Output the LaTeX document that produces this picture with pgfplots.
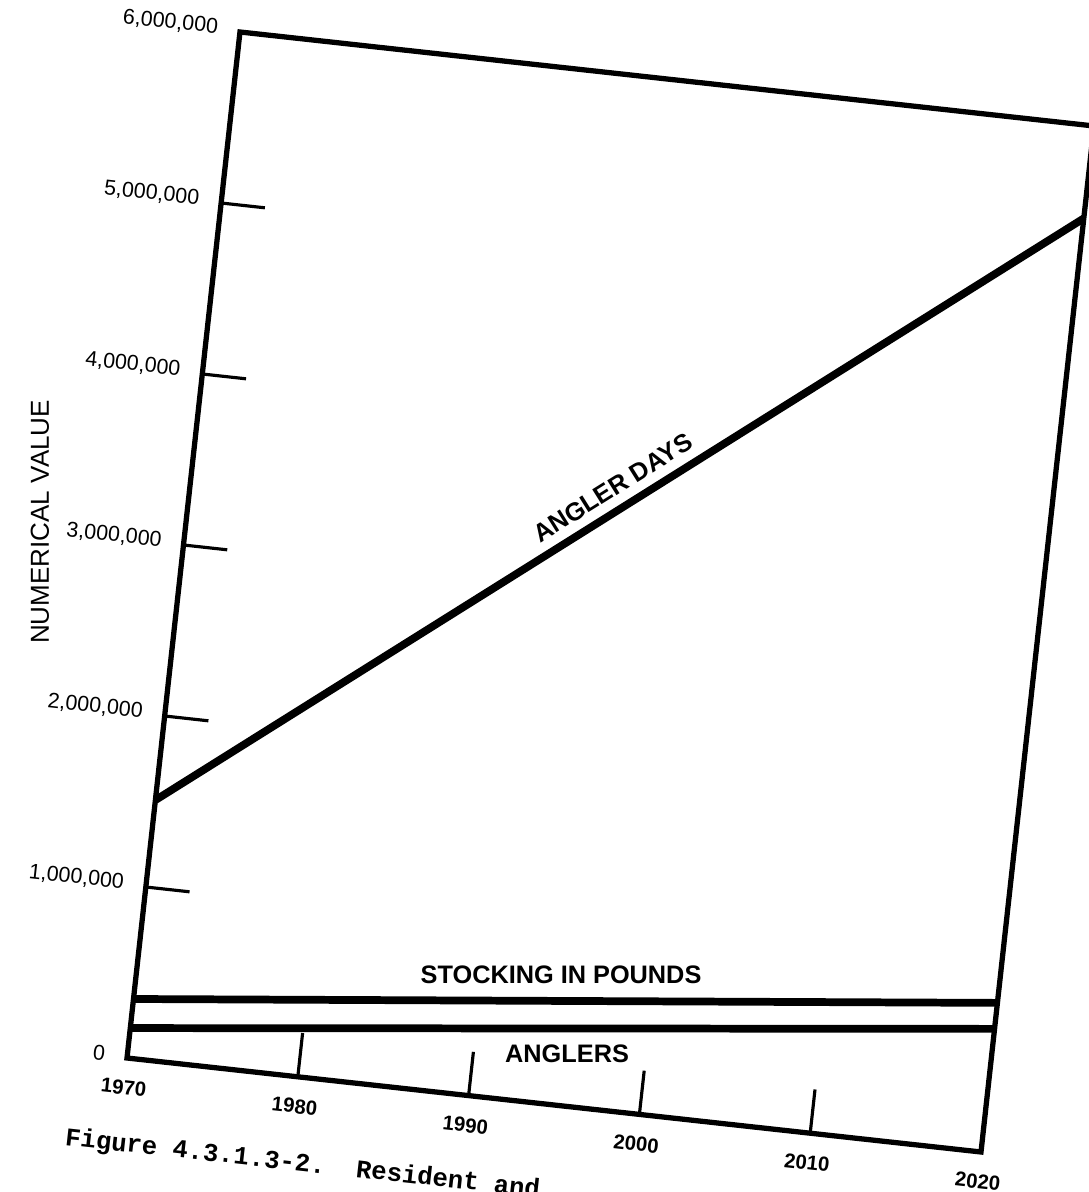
\documentclass[border=0pt]{standalone}
\usepackage{fontspec}
\setmainfont{Liberation Sans}
\newfontfamily\capfont{Liberation Mono}
\usepackage{pgfplots}
\pgfplotsset{compat=1.18}
\begin{document}
\begin{tikzpicture}
\begin{axis}[
  x={(1.708mm,-0.188mm)}, y={(1.883mm,17.10mm)},
  xmin=1970, xmax=2020, ymin=0, ymax=6,
  y filter/.expression={y/1000000},
  xtick={1970,1980,1990,2000,2010,2020},
  ytick={0,1,2,3,4,5,6},
  yticklabels={0,{1,000,000},{2,000,000},{3,000,000},{4,000,000},{5,000,000},{6,000,000}},
  tick pos=left, tick align=inside,
  major tick length=4.4mm,
  tick style={line width=0.9pt, black},
  axis line style={line width=1.5pt},
  /pgf/number format/assume math mode=true,
  every y tick label/.style={anchor=east, rotate=-6.3, xshift=-1.0mm, yshift=0.2mm},
  every x tick label/.style={anchor=north, rotate=-6.3, yshift=-1.0mm},
  yticklabel style={font=\fontsize{6.1}{7}\selectfont},
  xticklabel style={font=\fontsize{5.8}{7}\selectfont\bfseries, /pgf/number format/1000 sep={}},
  ylabel={NUMERICAL VALUE},
  every axis y label/.style={at={(axis cs:1961.55,3.042)}, rotate=90, anchor=center, font=\fontsize{7.4}{8}\selectfont},
]
\addplot[line width=2.2pt, black] coordinates {(1970,1508000) (2020,5460000)}
  node[pos=0.505, sloped, anchor=south, inner sep=0.9mm, font=\fontsize{7.2}{8}\selectfont\bfseries] {ANGLER DAYS};
\addplot[line width=2.2pt, black] coordinates {(1970,345000) (2020,872000)};
\addplot[line width=2.2pt, black] coordinates {(1970,175000) (2020,720000)};
\node[anchor=center, font=\fontsize{7.2}{8}\selectfont\bfseries] at (axis cs:1994.58,0.7556) {STOCKING IN POUNDS};
\node[anchor=center, font=\fontsize{7.2}{8}\selectfont\bfseries] at (axis cs:1995.43,0.303) {ANGLERS};
\coordinate (O) at (axis cs:1970,0);
\end{axis}
\pgfresetboundingbox
\path[use as bounding box] (O) ++(-12.7mm,-13.4mm) rectangle ++(108.8mm,119.2mm);
\path (O) ++(-6.3mm,-8.7mm) node[anchor=base west, inner sep=0pt, rotate=-6.3, font=\capfont\bfseries\fontsize{7.3}{9}\selectfont] {Figure 4.3.1.3-2.~~Resident and};
\end{tikzpicture}
\end{document}
